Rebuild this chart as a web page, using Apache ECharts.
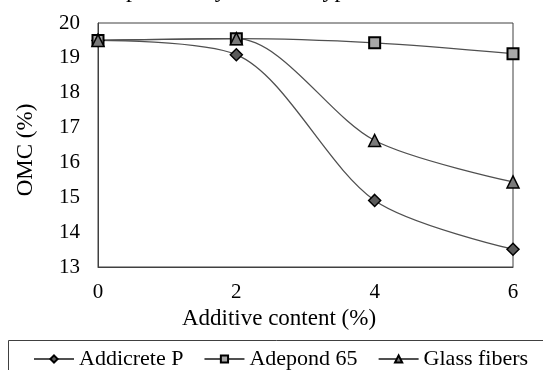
<!DOCTYPE html>
<html>
<head>
<meta charset="utf-8">
<script src="https://cdn.jsdelivr.net/npm/echarts@6/dist/echarts.min.js"></script>
<style>html,body{margin:0;padding:0;background:#fff}#c{width:543px;height:370px}</style>
</head>
<body>
<div id="c"></div>
<script>
var xValues = [0, 2, 4, 6];
var addicreteP = [19.5, 19.09, 14.91, 13.51];
var adepond65 = [19.5, 19.55, 19.43, 19.12];
var glassFibers = [19.5, 19.55, 16.63, 15.44];
var seriesNames = ['Addicrete P', 'Adepond 65', 'Glass fibers'];
var titleText = 'Variation of OMC with compaction by additive type';
var xAxisName = 'Additive content (%)';
var yAxisName = 'OMC (%)';

function pairs(vals) { return xValues.map(function (x, i) { return [x, vals[i]]; }); }

var FONT = 'Liberation Serif';
// place title so that the "p" of "compaction" sits at x≈132
var cv = document.createElement('canvas').getContext('2d');
cv.font = '24px "' + FONT + '"';
var pre = titleText.slice(0, titleText.indexOf('compaction') + 3);
var titleX = 132 - cv.measureText(pre).width - cv.measureText('p').width / 2;

var chart = echarts.init(document.getElementById('c'), null, {renderer: 'canvas'});
var lineStyle = {color: '#505050', width: 1.3};
chart.setOption({
  animation: false,
  backgroundColor: '#fff',
  textStyle: {fontFamily: FONT},
  grid: {left: 98, right: 30, top: 23, bottom: 103, show: true, borderColor: '#404040', borderWidth: 1},
  graphic: [
    {type: 'text', left: titleX, top: -21, silent: true,
     style: {text: titleText, font: '24px "' + FONT + '"', fill: '#000'}},
    {type: 'rect', shape: {x: 8.5, y: 340.5, width: 600, height: 100}, silent: true,
     style: {fill: 'none', stroke: '#404040', lineWidth: 1}}
  ],
  legend: {
    left: 33, top: 348, width: 600, itemWidth: 40, itemHeight: 9, itemGap: 20,
    padding: 0,
    textStyle: {fontSize: 22, fontFamily: FONT, color: '#000'},
    data: seriesNames
  },
  xAxis: {
    type: 'value', min: 0, max: 6, interval: 2,
    name: xAxisName, nameLocation: 'middle', nameGap: 39,
    nameTextStyle: {fontSize: 23, fontFamily: FONT, color: '#000', padding: [0, 53, 0, 0]},
    axisLine: {show: true, lineStyle: {color: '#404040', width: 1}},
    axisTick: {show: false},
    splitLine: {show: false},
    axisLabel: {fontSize: 21, fontFamily: FONT, color: '#000', margin: 15}
  },
  yAxis: {
    type: 'value', min: 13, max: 20, interval: 1,
    name: yAxisName, nameLocation: 'middle', nameGap: 61,
    nameTextStyle: {fontSize: 23, fontFamily: FONT, color: '#000', padding: [0, 10, 0, 0]},
    axisLine: {show: true, lineStyle: {color: '#404040', width: 1}},
    axisTick: {show: false},
    splitLine: {show: false},
    axisLabel: {fontSize: 21, fontFamily: FONT, color: '#000', margin: 18}
  },
  series: [
    {name: seriesNames[0], type: 'line', smooth: 0.3, data: pairs(addicreteP),
     symbol: 'diamond', symbolSize: 12, lineStyle: lineStyle,
     itemStyle: {color: '#5a5a5a', borderColor: '#000', borderWidth: 1.5}},
    {name: seriesNames[1], type: 'line', smooth: 0.3, data: pairs(adepond65),
     symbol: 'rect', symbolSize: 11, lineStyle: lineStyle,
     itemStyle: {color: '#a8a8a8', borderColor: '#000', borderWidth: 2}},
    {name: seriesNames[2], type: 'line', smooth: 0.3, data: pairs(glassFibers),
     symbol: 'triangle', symbolSize: 12, lineStyle: lineStyle,
     itemStyle: {color: '#7a7a7a', borderColor: '#000', borderWidth: 1.5}}
  ]
});
</script>
</body>
</html>
